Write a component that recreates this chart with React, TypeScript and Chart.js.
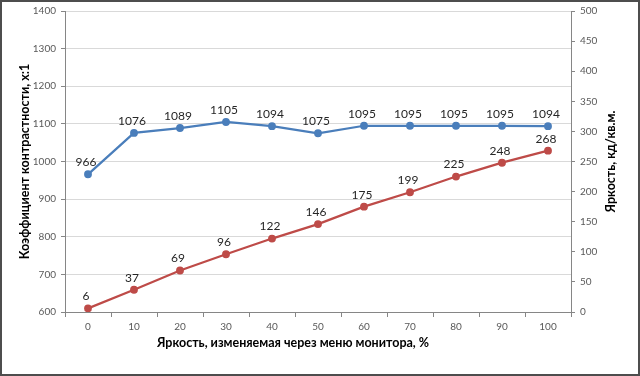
import React, { useEffect, useRef } from "react";
import { Chart, registerables } from "chart.js";

Chart.register(...registerables);

const categories = ["0", "10", "20", "30", "40", "50", "60", "70", "80", "90", "100"];
const contrast = [966, 1076, 1089, 1105, 1094, 1075, 1095, 1095, 1095, 1095, 1094];
const brightness = [6, 37, 69, 96, 122, 146, 175, 199, 225, 248, 268];

const xTitle = "Яркость, изменяемая через меню монитора, %";
const yLeftTitle = "Коэффициент контрастности, x:1";
const yRightTitle = "Яркость, кд/кв.м.";

const FONT = "Lato, 'Open Sans', sans-serif";

const labelPlugin = {
  id: "valueLabels",
  afterDatasetsDraw(chart: any) {
    const ctx = chart.ctx;
    ctx.save();
    ctx.font = `12px ${FONT}`;
    ctx.fillStyle = "#262626";
    ctx.textAlign = "center";
    ctx.textBaseline = "middle";
    chart.data.datasets.forEach((ds: any, i: number) => {
      const meta = chart.getDatasetMeta(i);
      meta.data.forEach((pt: any, j: number) => {
        ctx.fillText(String(ds.data[j]), pt.x - 2, pt.y - 12);
      });
    });
    ctx.restore();
  },
};

const titlesPlugin = {
  id: "axisTitles",
  afterDraw(chart: any) {
    const ctx = chart.ctx;
    const area = chart.chartArea;
    const cy = (area.top + area.bottom) / 2;
    ctx.save();
    ctx.font = `bold 12.5px ${FONT}`;
    ctx.fillStyle = "#000000";
    ctx.textAlign = "center";
    ctx.textBaseline = "middle";
    ctx.fillText(xTitle, 293, 343);
    ctx.save();
    ctx.translate(25, cy);
    ctx.rotate(-Math.PI / 2);
    ctx.fillText(yLeftTitle, 0, 0);
    ctx.restore();
    ctx.save();
    ctx.translate(611, cy);
    ctx.rotate(-Math.PI / 2);
    ctx.fillText(yRightTitle, 0, 0);
    ctx.restore();
    ctx.strokeStyle = "#4d4d4d";
    ctx.lineWidth = 2;
    ctx.strokeRect(1, 1, chart.width - 2, chart.height - 2);
    ctx.restore();
  },
  beforeDraw(chart: any) {
    const ctx = chart.ctx;
    ctx.save();
    ctx.fillStyle = "#ffffff";
    ctx.fillRect(0, 0, chart.width, chart.height);
    ctx.restore();
  },
};

const plain = (v: any) => String(v);

export default function App() {
  const ref = useRef<HTMLCanvasElement | null>(null);
  useEffect(() => {
    document.body.style.margin = "0";
    const chart = new Chart(ref.current as HTMLCanvasElement, {
      type: "line",
      data: {
        labels: categories,
        datasets: [
          {
            label: "contrast",
            data: contrast,
            yAxisID: "y",
            borderColor: "#4A7EBB",
            backgroundColor: "#4A7EBB",
            borderWidth: 2.25,
            pointRadius: 2.8,
            pointBackgroundColor: "#4A7EBB",
            pointBorderColor: "#4A7EBB",
            tension: 0,
          },
          {
            label: "brightness",
            data: brightness,
            yAxisID: "y1",
            borderColor: "#BE4B48",
            backgroundColor: "#BE4B48",
            borderWidth: 2.25,
            pointRadius: 2.8,
            pointBackgroundColor: "#BE4B48",
            pointBorderColor: "#BE4B48",
            tension: 0,
          },
        ],
      },
      options: {
        responsive: false,
        animation: false,
        layout: { padding: { top: 9, left: 0, right: 0, bottom: 0 } },
        plugins: { legend: { display: false }, tooltip: { enabled: false } },
        scales: {
          x: {
            type: "category",
            offset: true,
            grid: {
              display: true,
              offset: true,
              drawOnChartArea: false,
              drawTicks: true,
              tickLength: 5,
              color: "#868686",
            },
            border: { display: true, color: "#868686" },
            ticks: { color: "#595959", font: { family: FONT, size: 10 }, padding: 4 },
            afterFit(scale: any) {
              scale.height = 64;
            },
          },
          y: {
            position: "left",
            min: 600,
            max: 1400,
            ticks: { stepSize: 100, color: "#595959", font: { family: FONT, size: 10 }, padding: 5, callback: plain },
            grid: { color: "#D9D9D9", tickColor: "#868686", tickLength: 4 },
            border: { display: true, color: "#868686" },
            afterFit(scale: any) {
              scale.width = 65;
            },
          },
          y1: {
            position: "right",
            min: 0,
            max: 500,
            ticks: { stepSize: 50, color: "#595959", font: { family: FONT, size: 10 }, padding: 5, callback: plain },
            grid: { drawOnChartArea: false, color: "#868686", tickLength: 4 },
            border: { display: true, color: "#868686" },
            afterFit(scale: any) {
              scale.width = 69;
            },
          },
        },
      } as any,
      plugins: [labelPlugin, titlesPlugin],
    });
    return () => chart.destroy();
  }, []);
  return (
    <div style={{ width: 640, height: 376 }}>
      <canvas ref={ref} width={640} height={376} style={{ display: "block" }} />
    </div>
  );
}
